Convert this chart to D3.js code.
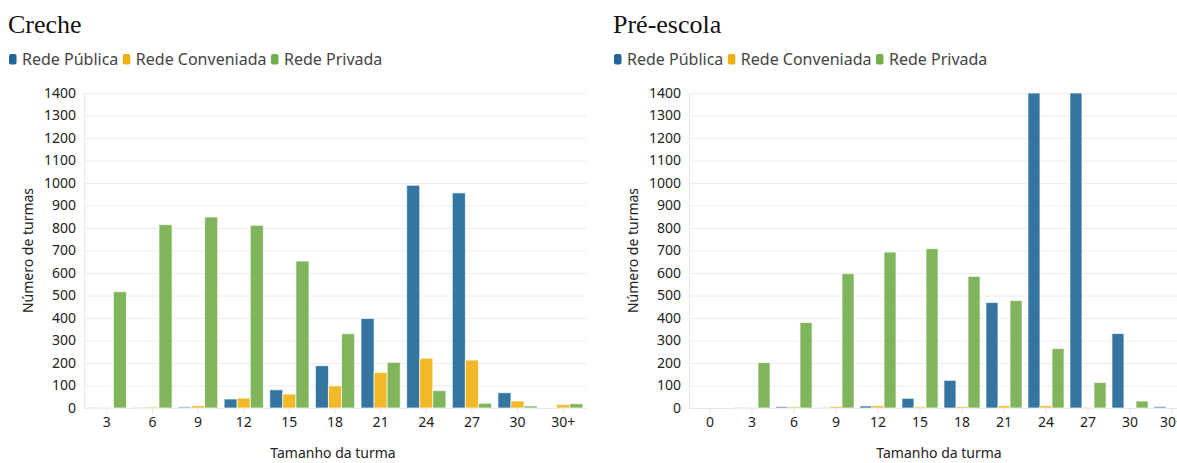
<!DOCTYPE html>
<html>
<head>
<meta charset="utf-8">
<script src="https://cdn.jsdelivr.net/npm/d3@7"></script>
<style>
  html, body { margin: 0; padding: 0; background: #fff; overflow: hidden; }
  svg { display: block; }
  .tick text { font-family: "Noto Sans", sans-serif; }
</style>
</head>
<body>
<svg id="chart" width="1177" height="463"></svg>
<script>
// Series names and colours
const seriesNames = ["Rede Pública", "Rede Conveniada", "Rede Privada"];
const seriesColors = ["#1f6797", "#efb00f", "#72ad4a"];

// Creche: class-size buckets and number of classes per network
const crecheCategories = ["3", "6", "9", "12", "15", "18", "21", "24", "27", "30", "30+"];
const crechePublica    = [1, 1, 5, 40, 81, 188, 398, 990, 956, 68, 0];
const crecheConveniada = [1, 5, 10, 44, 62, 98, 158, 221, 213, 31, 15];
const crechePrivada    = [517, 815, 849, 812, 653, 330, 203, 77, 21, 9, 19];

// Pré-escola: class-size buckets and number of classes per network
const preCategories = ["0", "3", "6", "9", "12", "15", "18", "21", "24", "27", "30", "30+"];
const prePublica    = [0, 1, 6, 1, 9, 43, 123, 469, 2150, 2050, 331, 6];
const preConveniada = [0, 1, 6, 7, 10, 6, 7, 10, 10, 3, 0, 0];
const prePrivada    = [0, 202, 380, 597, 693, 708, 585, 478, 264, 113, 31, 30];

// Shared y-axis ticks
const yTicks = d3.range(0, 1401, 100);
const yMax = 1400;

const svg = d3.select("#chart");

function drawPanel(opts) {
  const { offsetX, title, categories, values, width } = opts;
  const plotLeft = offsetX + 84, plotTop = 93, plotBottom = 408;
  const height = plotBottom - plotTop;

  const g = svg.append("g");

  // Title
  g.append("text")
    .attr("x", offsetX + 8).attr("y", 33)
    .attr("font-family", "'Liberation Serif', 'Times New Roman', serif")
    .attr("font-size", 26).attr("fill", "#111")
    .text(title);

  // Legend
  let lx = offsetX + 9;
  seriesNames.forEach((name, i) => {
    g.append("rect")
      .attr("x", lx).attr("y", 54).attr("width", 7.5).attr("height", 10.5)
      .attr("rx", 2).attr("fill", seriesColors[i]);
    const t = g.append("text")
      .attr("x", lx + 13).attr("y", 65)
      .attr("font-family", "'Noto Sans', sans-serif")
      .attr("font-size", 16).attr("fill", "#444")
      .text(name);
    lx += 13 + t.node().getComputedTextLength() + 4.5;
  });

  const plot = g.append("g").attr("transform", `translate(${plotLeft},${plotTop})`);

  const y = d3.scaleLinear().domain([0, yMax]).range([height, 0]).clamp(true);
  const x0 = d3.scaleBand().domain(categories).range([0, width])
    .paddingInner(0.14).paddingOuter(0.07);
  const x1 = d3.scaleBand().domain(d3.range(seriesNames.length))
    .range([0, x0.bandwidth()]).padding(0);

  // Horizontal grid with y labels
  const yAxis = plot.append("g")
    .call(d3.axisLeft(y).tickValues(yTicks).tickSize(-width).tickPadding(8).tickFormat(d3.format("d")));
  yAxis.select(".domain").remove();
  yAxis.selectAll(".tick line").attr("stroke", "#ececec");
  yAxis.selectAll(".tick text").attr("font-size", 14).attr("fill", "#222");

  // Left vertical axis line
  plot.append("line")
    .attr("x1", 0.5).attr("x2", 0.5).attr("y1", 0).attr("y2", height)
    .attr("stroke", "#e8e8e8");

  // X axis
  const xAxis = plot.append("g")
    .attr("transform", `translate(0,${height})`)
    .call(d3.axisBottom(x0).tickSize(5).tickPadding(4).tickSizeOuter(0));
  xAxis.select(".domain").attr("stroke", "#e6e6e6");
  xAxis.selectAll(".tick line").attr("stroke", "#e0e0e0");
  xAxis.selectAll(".tick text").attr("font-size", 14).attr("fill", "#222");

  // Grouped bars
  const rows = categories.map((c, ci) => ({ cat: c, vals: values.map(s => s[ci]) }));
  plot.append("g").selectAll("g")
    .data(rows).join("g")
    .attr("transform", d => `translate(${x0(d.cat)},0)`)
    .selectAll("rect")
    .data(d => d.vals.map((v, si) => ({ v, si })))
    .join("rect")
    .attr("x", d => x1(d.si))
    .attr("width", x1.bandwidth())
    .attr("y", d => y(d.v))
    .attr("height", d => height - y(d.v))
    .attr("fill", d => seriesColors[d.si])
    .attr("fill-opacity", 0.9)
    .attr("stroke", "#fff").attr("stroke-opacity", 0.7).attr("stroke-width", 1);

  // Axis titles
  g.append("text")
    .attr("transform", `translate(${offsetX + 33},${plotTop + height / 2}) rotate(-90)`)
    .attr("text-anchor", "middle")
    .attr("font-family", "'Noto Sans', sans-serif")
    .attr("font-size", 14).attr("fill", "#222")
    .text("Número de turmas");

  g.append("text")
    .attr("x", plotLeft + width / 2 - 2).attr("y", 458)
    .attr("text-anchor", "middle")
    .attr("font-family", "'Noto Sans', sans-serif")
    .attr("font-size", 14).attr("fill", "#222")
    .text("Tamanho da turma");
}

drawPanel({
  offsetX: 0, title: "Creche", categories: crecheCategories, width: 502,
  values: [crechePublica, crecheConveniada, crechePrivada]
});

drawPanel({
  offsetX: 605, title: "Pré-escola", categories: preCategories, width: 504,
  values: [prePublica, preConveniada, prePrivada]
});
</script>
</body>
</html>
